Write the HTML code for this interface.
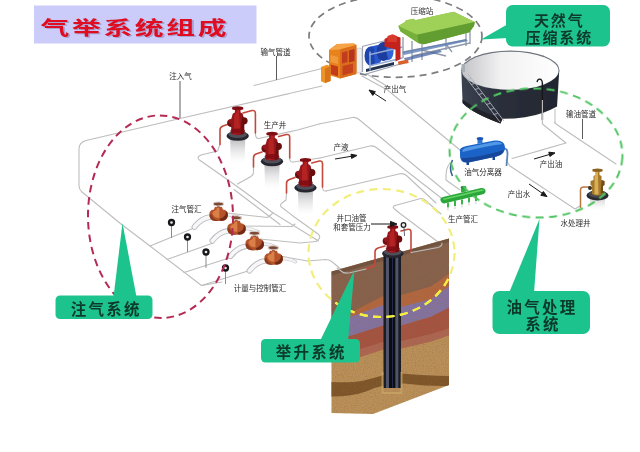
<!DOCTYPE html>
<html lang="zh">
<head>
<meta charset="utf-8">
<title>气举系统组成</title>
<style>
html,body{margin:0;padding:0;background:#fff;}
body{width:640px;height:452px;overflow:hidden;position:relative;font-family:"Liberation Sans","Noto Sans CJK SC",sans-serif;}
svg{position:absolute;left:0;top:0;display:block;}
.lbl{font-family:"Liberation Sans","Noto Sans CJK SC",sans-serif;font-size:7.5px;fill:#2a2a2a;font-weight:400;}
.call{font-family:"Liberation Sans","Noto Sans CJK SC",sans-serif;font-weight:700;fill:#0c3b2c;}
.title{font-family:"Liberation Sans","Noto Sans CJK SC",sans-serif;font-weight:700;fill:#e01020;}
.pipe{fill:none;stroke:#bdbdbd;stroke-width:1.1;stroke-linejoin:round;stroke-linecap:round;}
.rpipe{fill:none;stroke:#c4483c;stroke-width:1.6;stroke-linejoin:round;stroke-linecap:round;}
</style>
</head>
<body>
<svg width="640" height="452" viewBox="0 0 640 452">
<defs>
  <filter id="soft" x="-5%" y="-5%" width="110%" height="110%"><feGaussianBlur stdDeviation="0.6"/></filter>
  <filter id="soft2" x="-5%" y="-5%" width="110%" height="110%"><feGaussianBlur stdDeviation="0.7"/></filter>
  <filter id="blur3" x="-30%" y="-30%" width="160%" height="160%"><feGaussianBlur stdDeviation="2.5"/></filter>
  <filter id="speck" x="0" y="0" width="100%" height="100%">
    <feTurbulence type="fractalNoise" baseFrequency="0.9" numOctaves="2" seed="7" result="n"/>
    <feColorMatrix in="n" type="matrix" values="0 0 0 0 0.25  0 0 0 0 0.15  0 0 0 0 0.08  0 0 0 -2.2 1.25"/>
  </filter>
  <linearGradient id="tankTop" x1="0" y1="0" x2="1" y2="0">
    <stop offset="0" stop-color="#c4c4c8"/><stop offset="0.4" stop-color="#f1f1f2"/><stop offset="1" stop-color="#ffffff"/>
  </linearGradient>
  <linearGradient id="tankBody" x1="0" y1="0" x2="1" y2="0">
    <stop offset="0" stop-color="#3c4250"/><stop offset="0.35" stop-color="#2b303c"/><stop offset="1" stop-color="#23262f"/>
  </linearGradient>
  <linearGradient id="shadowG" x1="0" y1="0" x2="0" y2="1">
    <stop offset="0" stop-color="#b9b9bd" stop-opacity="0.95"/><stop offset="1" stop-color="#e6e6e8" stop-opacity="0"/>
  </linearGradient>
  <linearGradient id="casing" x1="0" y1="0" x2="1" y2="0">
    <stop offset="0" stop-color="#1a1a22"/><stop offset="0.13" stop-color="#1a1a22"/><stop offset="0.17" stop-color="#50566c"/><stop offset="0.30" stop-color="#50566c"/><stop offset="0.34" stop-color="#0b0b11"/><stop offset="0.46" stop-color="#0b0b11"/><stop offset="0.5" stop-color="#2f3d6c"/><stop offset="0.54" stop-color="#0b0b11"/><stop offset="0.66" stop-color="#0b0b11"/><stop offset="0.70" stop-color="#50566c"/><stop offset="0.83" stop-color="#50566c"/><stop offset="0.87" stop-color="#1a1a22"/><stop offset="1" stop-color="#1a1a22"/>
  </linearGradient>
  <clipPath id="soilClip"><path d="M331.500,271.500 L449,238.500 L449,385 L373,414 L331.500,413 Z"/></clipPath>
  <g id="well">
    <path d="M-7.500,20 L7.500,20 L7,44 L-7,44 Z" fill="url(#shadowG)"/>
    <use href="#wellbody"/>
  </g>
  <g id="wellbody">
    <ellipse cx="0" cy="17" rx="11.200" ry="4.800" fill="#26262e"/>
    <ellipse cx="0" cy="15.300" rx="9.300" ry="3.700" fill="#50505c"/>
    <path d="M-6.500,14.500 L-6.500,8 Q-10.500,7.500 -10.500,3.500 Q-10.500,0 -6.500,0 L-5.500,-3 Q-5.500,-6 -2.800,-6.500 L-2.800,-9 L-5.500,-9.500 L-5.500,-11.500 L5.500,-11.500 L5.500,-9.500 L2.800,-9 L2.800,-6.500 Q5.500,-6 5.500,-3 L6,-1.500 Q9.500,-2 9.800,1.500 Q10,5 6.500,5.500 L6.500,14.500 Q0,18 -6.500,14.500 Z" fill="#93151a"/>
    <path d="M-3.500,15.500 L-3.500,-3 Q-3,-6 -1,-6 L-1,-9 L1.500,-9 L1.500,-5 L2.500,14.500 Z" fill="#bd2826" opacity=".8"/>
    <path d="M3,15.800 L6.500,14.500 L6.500,5.500 Q10,5 9.800,1.500 Q9.500,-2 6,-1.500 L4.500,-3 Z" fill="#5e080d" opacity=".75"/>
    <path d="M-10.500,3.500 Q-10.500,7.500 -6.500,8 L-6.500,5 Q-9,5 -9,2 Z" fill="#5e080d" opacity=".7"/>
    <ellipse cx="0" cy="-11" rx="5.500" ry="1.800" fill="#7e0d12"/>
    <ellipse cx="0" cy="12" rx="7.500" ry="2.600" fill="#7a0c12" opacity=".8"/>
  </g>

</defs>
<rect x="0" y="0" width="640" height="452" fill="#ffffff"/>
<g id="diagram" filter="url(#soft)">
<!-- ===== title ===== -->
<rect x="34" y="5.5" width="222.5" height="38" fill="#ccccfb"/>
<g transform="translate(40.5,34.8) scale(1.55,1.04)">
  <text class="title" x="1.2" y="1.2" font-size="18.600" letter-spacing="1.700" style="fill:#8d7fb0;opacity:.55">气举系统组成</text>
  <text class="title" x="0" y="0" font-size="18.600" letter-spacing="1.700">气举系统组成</text>
</g>

<!-- ===== gray pipe network ===== -->
<g class="pipe">
  <!-- gas transmission pipe from compressor to lower-left -->
  <path d="M322,68.500 L254,85.500"/>
  <path d="M322,86 L180,118.500 L86,140.500 Q79,142.500 79,149 L79,186 Q79,189.500 82,192 L121,224 L150,246 L201.500,285.500 L222,282"/>
  <!-- injection manifold rows -->
  <path d="M150,246 L194,228"/>
  <path d="M167,259.500 L213,243"/>
  <path d="M184,272.500 L229,258"/>
  <path d="M201.500,285.500 L248,271"/>
  <!-- injection trunk + branches to wells -->
  <path d="M220,144.500 L217.500,151 L201,155 Q196,157 199.500,160 L240,188.500 L272.500,212.500 L318.500,241"/>
  <path d="M237.500,184 L251,176.500 Q253.500,175 253.500,172 L253.500,167"/>
  <path d="M234,189.500 L280,224.500 "/>
  <path d="M286.500,193 L286,200 L282,203 Q279,205 282,207.500 L295,217.500 L318,234 Q321.500,237 318,240 L316,241.500"/>
  <!-- valve outlets -->
  <path d="M227,213 L267.500,217.500 L272.500,213.500"/>
  <path d="M243,226 L292,226.500 L295,224"/>
  <path d="M260,239 L300,243 L316,241.500"/>
  <path d="M280,256 L307.500,261 L326,259.500 Q330,259.500 333,262.500 L343,271"/>
  <!-- production lines from wells -->
  <path d="M255.400,133 Q255.400,139 259,138.500 L297.500,130 L320,123.800"/>
  <path d="M289.700,158 Q289.700,162.500 293,162 L320,158"/>
  <path d="M322.500,187 Q322.500,191.500 326,191"/>
  <path d="M320,123.800 L352.500,117.500 Q356,117 359,119.500 L450,195"/>
  <path d="M320,158 L370,146 Q374,145.500 377,148 L445,201"/>
  <path d="M326,191 L400,173.800 Q403.500,173 406.500,175.500 L436,203"/>
  <!-- produced gas return : compressor to separator -->
  <path d="M362,76 L387.500,90 L460,150"/>
  <path d="M366,73.500 L390,88"/>
  <!-- separator inlet -->
  <path d="M450,163 Q446,168 446,176 L446,180 L460,190"/>
  <!-- loop lines near lifting well -->
  <path d="M395,205.500 L420,198.800 Q423,198 425,200 L441,214"/>
  <path d="M395,205.500 Q392,206.500 394,208.500 L400,213.500 L440,243.500"/>
  <!-- tank pipes / oil pipeline -->
  <path d="M542.400,120 L542.400,124 L566,143 L512,158.500"/>
  <path d="M555,122 L556,124 L616,164"/>
  <!-- separator to water well -->
  <path d="M506,160 L510,166 L575,209 L580,206"/>
</g>
<g fill="none" stroke="#4a4a4a" stroke-width=".9"><path d="M180,81 L180,118"/><path d="M276.500,56 L276.500,80"/><path d="M582.500,119 L582.500,139"/></g>
<ellipse cx="395.500" cy="36.300" rx="86.500" ry="41" fill="none" stroke="#7d7d80" stroke-width="1.700" stroke-dasharray="7 5"/>
<!-- ===== compressor station ===== -->
<g id="compressor">
  <!-- frame / legs under hopper -->
  <g fill="none" stroke="#8f98a8" stroke-width="1.3">
    <path d="M403,37 L403,58"/><path d="M412,41 L412,62"/><path d="M422,44 L422,60"/>
    <path d="M446,38 L446,50"/><path d="M466,33 L466,46"/><path d="M470,31 L470,44"/>
    <path d="M403,52 L466,40"/><path d="M412,56 L470,43"/>
    <path d="M422,50 L446,56"/><path d="M446,44 L452,52"/>
  </g>
  <path d="M402,52 L466,39 L468,41 L404,55 Z" fill="#5f7fb5" opacity=".8"/>
  <path d="M404,58 L440,50 L442,52 L405,61 Z" fill="#3b5d9c" opacity=".7"/>
  <!-- green hopper -->
  <path d="M398.300,26 L405,22 L406,20.300 L414,18.800 L415,20.300 L453.750,11.700 L474.800,22 L474,26 L469.400,32.300 L424,44.300 L418.600,43.200 L400.600,31.500 Z" fill="#86bf45"/>
  <path d="M398.300,26 L405,22 L406,20.300 L414,18.800 L415,20.300 L453.750,11.700 L474.800,22 L417,34.800 Z" fill="#9fd058"/>
  <path d="M417,34.800 L474.800,22 L474,26 L469.400,32.300 L424,44.300 L418.600,43.200 Z" fill="#629d32"/>
  <path d="M398.300,26 L417,34.800 L418.600,43.200 L400.600,31.500 Z" fill="#76b03b"/>
  <!-- pipe rack frame -->
  <g fill="none" stroke="#9aa1ad" stroke-width="1.200">
    <path d="M362,46.500 L398,37.500"/><path d="M362.500,72 L362.500,47"/>
    <path d="M366,74 L402,63.500"/><path d="M398,38 L398,60"/>
  </g>
  <!-- white cylinder -->
  <rect x="356.400" y="48" width="5.600" height="25" rx="2.600" fill="#eceef2" stroke="#b5b9c2" stroke-width=".6"/>
  <!-- blue motors -->
  <path d="M370.500,46.500 L378,45 L378,64 L370.500,65.500 Z" fill="#2a58cc"/>
  <ellipse cx="370.500" cy="56" rx="6" ry="9.500" fill="#1d44ae"/>
  <ellipse cx="378" cy="54.500" rx="4" ry="9.500" fill="#2a58cc"/>
  <path d="M383,42 L390,40.500 L390,59.500 L383,61 Z" fill="#2752c4"/>
  <ellipse cx="383" cy="51.500" rx="6.300" ry="9.500" fill="#1a3c9e"/>
  <ellipse cx="390" cy="50" rx="3.600" ry="9.300" fill="#3364d6"/>
  <path d="M366,69 L394,62 L394,65 L366,72 Z" fill="#23324f"/>
  <g fill="none" stroke="#93a8d2" stroke-width="1.500">
    <path d="M369,54.700 L402.500,46.900"/><path d="M369,66 L402.500,58"/><path d="M370,51.500 L370,70.500"/>
  </g>
  <!-- red block -->
  <path d="M384.500,39 L392,35 L400.500,37.500 L400.500,59 L395.500,61.500 L395.500,49.500 L384.500,46.500 Z" fill="#c4201f"/>
  <path d="M387.500,36 L392.500,34.300 L397,36 L397,42 L387.500,42 Z" fill="#d93a2c"/>
  <path d="M398,61.500 L408,59.500 L408.700,63 L398.500,65 Z" fill="#d8622d"/>
  <!-- orange cabinet -->
  <path d="M329,50 L337,44 L354,43.500 L356.400,45 L356.400,74 L340,78.500 L329,75 Z" fill="#e8831f"/>
  <path d="M329,50 L337,44 L354,43.500 L356.400,45 L340,49.500 Z" fill="#f6a445"/>
  <path d="M340,49.500 L356.400,45 L356.400,74 L340,78.500 Z" fill="#db6e1b"/>
  <path d="M342,52.500 L347.500,51 L347.500,62 L342,63.500 Z" fill="#c13a1d"/>
  <path d="M349,50.500 L354.500,49 L354.500,61 L349,62.500 Z" fill="#b83220"/>
  <path d="M342.500,66 L353,63.500 L353,72.500 L342.500,75.500 Z" fill="#c5421f"/>
  <path d="M330.500,55 L338,57 L338,64 L330.500,62 Z" fill="#f09a3a"/>
  <path d="M330.500,64.500 L338,66.500 L338,76.500 L330.500,74 Z" fill="#c43a1c"/>
  <path d="M321,67 L327,64.800 L330.600,66.200 L330.600,81 L325,83 L321,81.300 Z" fill="#ee9426"/>
  <path d="M325,68.500 L330.600,66.200 L330.600,81 L325,83 Z" fill="#d8741c"/>
</g>

<!-- ===== storage tank ===== -->
<g id="tank">
  <path d="M461.300,70 L462.600,103 Q472,113 500.400,123.500 L502.500,118.800 Q535,119 557,106.500 L559.300,70 Z" fill="url(#tankBody)"/>
  <path d="M462.600,103 Q472,113 500.400,123.500 L502.500,118.800 Q480,112 462.600,99.500 Z" fill="#20232c"/>
  <ellipse cx="510.300" cy="70.200" rx="49" ry="19.800" fill="#6f737d"/>
  <ellipse cx="510.300" cy="70.800" rx="48.200" ry="19" fill="url(#tankTop)"/>
  <!-- ladder -->
  <g stroke="#aeb2ba" stroke-width=".9" fill="none">
    <path d="M464,75 L500,122"/><path d="M468,74 L504,121"/>
    <path d="M467,79.500 L471,78.500 M470.800,84.500 L474.800,83.500 M474.600,89.500 L478.600,88.500 M478.400,94.500 L482.400,93.500 M482.200,99.500 L486.200,98.500 M486,104.500 L490,103.500 M489.800,109.500 L493.800,108.500 M493.600,114.500 L497.600,113.500"/>
  </g>
  <rect x="461.500" y="64" width="3.500" height="8" fill="#a9adb5"/>
  <!-- outlet pipe right -->
  <path d="M537,82 Q538,78 541,79.500 Q542.500,80.500 542.400,84 L542.400,120" fill="none" stroke="#14151a" stroke-width="1.400"/>
  <path d="M542.400,100 L542.400,122" fill="none" stroke="#c4c4c8" stroke-width="1.100"/>
  <path d="M555,109 L555,124" fill="none" stroke="#c4c4c8" stroke-width="1.100"/>
</g>

<!-- ===== separator (blue) ===== -->
<g id="separator" transform="translate(-3.500,0)">
  <path d="M456,176 Q452,168 456,160" fill="none" stroke="#3a5c8a" stroke-width="1.6"/>
  <path d="M505,150 Q511,146 511,154 L510,166" fill="none" stroke="#5a86b8" stroke-width="1.8"/>
  <path d="M463.5,152 Q462,147.500 470,146 L498,140.500 Q508,139.500 508.500,147 Q509,154.500 500,156.500 L472,162.500 Q463,163.500 463.500,155 Z" fill="#1e64c8"/>
  <path d="M466,150 Q468,147.500 472,147 L499,141.800 Q504,141.500 506,144 Q490,146 466,152 Z" fill="#5aa2ec" opacity=".85"/>
  <path d="M465,158 Q480,158 507,150 Q507,154.500 500,156.500 L472,162.500 Q466,163 465,158 Z" fill="#123f8c" opacity=".8"/>
  <path d="M481,144 L481,139 Q483.500,136.500 486,139 L486,143 Z" fill="#2c74d4"/>
  <ellipse cx="483.500" cy="138.500" rx="3.300" ry="1.500" fill="#1a55b0"/>
  <rect x="470" y="161" width="2.500" height="4" fill="#174a9c"/><rect x="496" y="156" width="2.500" height="4" fill="#174a9c"/>
</g>

<!-- ===== production manifold (green) ===== -->
<g id="manifold" transform="translate(3,-3.500)">
  <path d="M438,205 Q436,201.500 440,200.500 L478,191.500 Q482,191 482.500,194 Q483,197 479,198 L441,207 Q439,207 438,205 Z" fill="#2aa63a"/>
  <path d="M440,202 L479,192.800 Q481,193 481,194 L441,203.500 Z" fill="#6fdc6d" opacity=".8"/>
  <path d="M458,196 L458,191.500 Q460.500,189.500 463,191.500 L463,195 Z" fill="#2fae3f"/>
  <ellipse cx="460.500" cy="190.800" rx="3" ry="1.400" fill="#1f8a30"/>
  <g stroke="#39b54a" stroke-width="2">
    <path d="M445,206 L445,211"/><path d="M452,204.500 L452,209.500"/><path d="M459,203 L459,208"/><path d="M466,201 L466,206"/><path d="M473,199.500 L473,204.500"/>
  </g>
  <g stroke="#dfe3e0" stroke-width="1.600">
    <path d="M445,211 L445,214"/><path d="M452,209.500 L452,212.500"/><path d="M459,208 L459,211"/><path d="M466,206 L466,209"/><path d="M473,204.500 L473,207.500"/>
  </g>
</g>

<!-- ===== water treatment well (brass) ===== -->
<g id="waterwell">
  <rect x="590" y="198" width="15" height="12" fill="url(#shadowG)" opacity=".7"/>
  <ellipse cx="597.500" cy="195.500" rx="11" ry="5" fill="#2a2a30"/>
  <ellipse cx="597.500" cy="194" rx="9" ry="3.800" fill="#4c4a50"/>
  <path d="M580.500,208 L580.500,190 Q580.500,187 584,187 L590,187" fill="none" stroke="#b8783c" stroke-width="1.500"/>
  <path d="M592,194 L592,186 L590.500,185 L590.500,181 L593.500,180 L593.500,176 L595.500,175 L595.500,172 L592.500,171.500 L592.500,169.500 L602.500,169.500 L602.500,171.500 L599.500,172 L599.500,175 L601.500,176 L601.500,180 L604.500,181 L604.500,185 L603,186 L603,194 Q597.500,197 592,194 Z" fill="#a5782c"/>
  <path d="M594.500,194.500 L594.500,176 L596,175 L596,172 L598,172 L598,176 L598.500,194.500 Z" fill="#e0b85a" opacity=".85"/>
  <path d="M600.500,194 L603,193 L603,186 L604.500,185 L604.500,181 L601.500,180 Z" fill="#5c3c14" opacity=".7"/>
  <ellipse cx="597.500" cy="170" rx="5" ry="1.500" fill="#8a6220"/>
  <circle cx="590" cy="188" r="2" fill="#3a3026"/>
</g>
<!-- ===== production wellheads (red) ===== -->
<g id="wells">
  <g class="rpipe">
    <path d="M229,124 L223,126 Q220,127 220,130 L220,144.500"/>
    <path d="M243,113 L252,110.500 Q255.400,110 255.400,113.500 L255.400,133"/>
    <path d="M262,152 L256,154 Q253.500,155 253.500,158 L253.500,167"/>
    <path d="M278.600,136.500 L286.500,134.500 Q289.700,134 289.700,137.500 L289.700,158"/>
    <path d="M295,177.500 L289.500,179.500 Q286.500,180.500 286.500,183.500 L286.500,193"/>
    <path d="M311.800,163 L319.500,161 Q322.500,160.500 322.500,164 L322.500,187"/>
  </g>
  <use href="#well" x="237.700" y="119"/>
  <use href="#well" x="272" y="144.500"/>
  <use href="#well" x="305.500" y="170.800"/>
</g>

<!-- ===== injection manifold: gauges + valves ===== -->
<g id="gauges">
  <g stroke="#8a8a8a" stroke-width="1">
    <path d="M171.500,224 L171.500,238"/><path d="M187.500,238 L187.500,252"/><path d="M206,253 L206,268"/><path d="M225.500,269 L225.500,284"/>
  </g>
  <g fill="#e8e8e8" stroke="#17171a" stroke-width="2.300">
    <circle cx="171.500" cy="222.500" r="2.500"/><circle cx="187.500" cy="237" r="2.500"/><circle cx="206" cy="252" r="2.500"/><circle cx="225.500" cy="268" r="2.500"/>
  </g>
</g>
<g id="valves">
  <defs>
    <g id="valve">
      <path d="M-8,5 Q-17,6 -24,15" fill="none" stroke="#b9b9be" stroke-width="5.600" stroke-linecap="round"/>
      <path d="M-8,5 Q-17,6 -24,15" fill="none" stroke="#f7f7f9" stroke-width="3.800" stroke-linecap="round"/>
      <path d="M7,3 Q14,2 22,6" fill="none" stroke="#c9c9cd" stroke-width="3.400" stroke-linecap="round"/>
      <path d="M7,3 Q14,2 22,6" fill="none" stroke="#f4f4f6" stroke-width="2" stroke-linecap="round"/>
      <path d="M-9,3 Q-9.500,-2 -4.500,-2.500 L-3.500,-5 L3.500,-5 L4.500,-2.500 Q9.500,-2 9.500,3 Q9.500,8.500 3,9 L-3,9 Q-9,8.500 -9,3 Z" fill="#b5532b"/>
      <path d="M-6,1 Q-5,-1.500 -2,-2 L-1.500,-5 L1,-5 L1,6 Q-5,6 -6,1 Z" fill="#e1874b" opacity=".85"/>
      <path d="M2.500,9 Q9.500,8.500 9.500,3 Q9.500,0 7.500,-1 Q8,5 1,7 Z" fill="#65250f" opacity=".85"/>
      <path d="M-9,3 Q-9,8.500 -3,9 L0,9 Q-6,7 -7,2 Z" fill="#7a3116" opacity=".7"/>
      <rect x="-1.400" y="-8" width="2.800" height="3.500" fill="#8c3a1c"/>
      <ellipse cx="0" cy="-8" rx="5.200" ry="2" fill="#7d4a36" stroke="#d9cfc9" stroke-width="1.100"/>
    </g>
  </defs>
  <use href="#valve" x="218.400" y="212"/>
  <use href="#valve" x="236.300" y="225.800"/>
  <use href="#valve" x="254.500" y="241.200"/>
  <use href="#valve" x="273.400" y="255.800"/>
</g>

<!-- ===== soil block & lifting well ===== -->
<g id="soil">
  <g clip-path="url(#soilClip)">
    <rect x="330" y="238" width="122" height="180" fill="#bb9058"/>
    <!-- top layer: brown -->
    <path d="M330,270 L450,237 L450,274 L431,287 L401,296 L383,297 L350,314 L330,317 Z" fill="#86614b"/>
    <!-- orange layer -->
    <path d="M350,313 L383,296 L401,295 L431,286.500 L450,273 L450,286 L431,299.500 L401,307.500 L383,305.500 L350,317.500 L340,317 Z" fill="#b3663e"/>
    <!-- purple layer -->
    <path d="M330,316 L350,317 L383,305 L401,307 L431,299 L450,285.500 L450,307.500 L431,317 L401,326 L383,326 L350,336.500 L330,338.500 Z" fill="#8372a2"/>
    <!-- red-brown layer -->
    <path d="M330,338 L350,336 L383,325.500 L401,325.500 L431,316.700 L450,307 L450,335 L431,341.500 L401,348.500 L383,349.500 L360,357 L330,362.500 Z" fill="#a5523f"/>
    <path d="M330,355 L360,349 L383,342 L401,341 L431,334 L450,328 L450,335 L431,341.500 L401,348.500 L383,349.500 L360,357 L330,362.500 Z" fill="#b67460" opacity=".55"/>
    <!-- dark band -->
    <path d="M330,382 Q350,383 362,381 Q374,378 384,375 L401,373.500 Q428,376 450,376 L450,386 Q428,386.500 404,383.500 L386,385 Q376,387 366,391.500 Q352,396.500 330,396.500 Z" fill="#7d5427"/>
    <rect x="330" y="236" width="122" height="182" filter="url(#speck)" opacity=".45"/>
    <!-- left face shading -->
    <path d="M331.500,271.500 L449,238.500 L449,242 L331.500,275.500 Z" fill="#5e4535" opacity=".5"/>
  </g>
  <!-- casing -->
  <rect x="383.500" y="252" width="17.500" height="136" fill="url(#casing)"/>
  <path d="M381.500,372 L383.500,372 L383.500,392 L400.500,392 L400.500,372 L402.500,372 L402.500,394 L381.500,394 Z" fill="#c9a86a" opacity=".7"/>
  <!-- wellhead -->
  <g class="rpipe" stroke="#c8202a" stroke-width="1.600">
    <path d="M385,246 L378,248 Q375,249 375,252 L375,263 Q375,266 372,267 L366,269"/>
    <path d="M401,231 L408,229.300 Q411,229 411,232 L411,252.500"/>
  </g>
  <use href="#wellbody" x="392.800" y="237.300" transform="translate(392.800 237.300) scale(.96) translate(-392.800 -237.300)"/>
  <circle cx="403.500" cy="225" r="2.300" fill="#e8e8e8" stroke="#222" stroke-width="1.300"/>
  <path d="M404,227.500 L404.500,236" stroke="#555" stroke-width=".9"/>
  <path d="M411,252.500 L438,247.500 Q442,246.500 442,243" class="pipe" stroke="#888"/>
  <path d="M366,269 L350,272.800 Q344,274 341,271 L337,268" class="pipe" stroke="#555"/>
</g>
<!-- ===== dashed ellipses ===== -->
<ellipse cx="160.500" cy="216.700" rx="72.500" ry="101.300" fill="none" stroke="#b42a52" stroke-width="2" stroke-dasharray="7.500 5" transform="rotate(-0.800 160.500 216.700)"/>
<ellipse cx="536" cy="153" rx="86.500" ry="64.500" fill="none" stroke="#50c462" stroke-width="2" stroke-dasharray="8 5.500" transform="rotate(3 536 153)"/>
<ellipse cx="381.500" cy="253" rx="73" ry="64" fill="none" stroke="#f2ee7c" stroke-width="2.200" stroke-dasharray="8 5.500"/>
<ellipse cx="381.500" cy="253" rx="73" ry="64" fill="none" stroke="#f7ef3c" stroke-width="2.200" stroke-dasharray="8 5.500" clip-path="url(#soilClip)"/>

<!-- ===== callouts ===== -->
<g id="callouts">
  <!-- natural gas compression -->
  <path d="M481,39.500 L508,24 L508,38 Z" fill="#1fc38d"/>
  <rect x="506" y="5" width="104" height="41.500" rx="6.500" fill="#1fc38d"/>
  <!-- gas injection -->
  <path d="M122.500,223 L113.500,297 L136.500,297 Z" fill="#1fc38d"/>
  <rect x="55.500" y="295.500" width="97" height="23.500" rx="4.500" fill="#1fc38d"/>
  <!-- lifting -->
  <path d="M354.500,270 L320,341 L348,341 Z" fill="#1fc38d"/>
  <rect x="261" y="339" width="99" height="23.500" rx="4.500" fill="#1fc38d"/>
  <!-- oil & gas processing -->
  <path d="M539.500,219 L509,293 L534,293 Z" fill="#1fc38d"/>
  <rect x="492.500" y="291" width="97.500" height="43" rx="7" fill="#1fc38d"/>
</g>
<!-- ===== callout text ===== -->
<g class="call" font-size="15" text-anchor="middle" letter-spacing="1.900">
  <text x="559.300" y="26.300">天然气</text>
  <text x="559.300" y="43.300">压缩系统</text>
</g>
<g class="call" font-size="15.500" text-anchor="middle" letter-spacing="2.200">
  <text x="106.200" y="314.700">注气系统</text>
  <text x="311.200" y="357.700">举升系统</text>
  <text x="542" y="312.700">油气处理</text>
  <text x="543" y="329.800">系统</text>
</g>
<!-- ===== small labels ===== -->
<g class="lbl" text-anchor="middle">
  <text x="422" y="13.700">压缩站</text>
  <text x="275.500" y="54.500">输气管道</text>
  <text x="180.500" y="78.800">注入气</text>
  <text x="395" y="92.300">产出气</text>
  <text x="275" y="128">生产井</text>
  <text x="341" y="149.800">产液</text>
  <text x="581" y="117.200">输油管道</text>
  <text x="483" y="175">油气分离器</text>
  <text x="551" y="166.500">产出油</text>
  <text x="519" y="197.300">产出水</text>
  <text x="575.500" y="225.500">水处理井</text>
  <text x="463" y="221.800">生产管汇</text>
  <text x="186.500" y="211.800">注气管汇</text>
  <text x="351.500" y="220.600">井口油管</text>
  <text x="352" y="229.600">和套管压力</text>
  <text x="260" y="290.800">计量与控制管汇</text>
</g>
<!-- ===== arrows ===== -->
<g stroke="#1a1a1a" stroke-width="1" fill="#1a1a1a">
  <path d="M386,101 L373,92.600" fill="none"/><path d="M369,90 L375.300,91.600 L372.800,95.400 Z"/>
  <path d="M335,159 L352,156.200" fill="none"/><path d="M357,155.400 L351.600,158.400 L351,154.200 Z"/>
  <path d="M534,159 L550,154.300" fill="none"/><path d="M555,152.900 L549.900,156.400 L548.800,152.200 Z"/>
  <path d="M529,184 L543,193.800" fill="none"/><path d="M547,196.600 L540.800,195.300 L543.400,191.500 Z"/>
  <path d="M371,224 L391,224" fill="none"/><path d="M397,224 L390.500,226.600 L390.500,221.400 Z"/>
</g>
</g>
</svg>
</body>
</html>
